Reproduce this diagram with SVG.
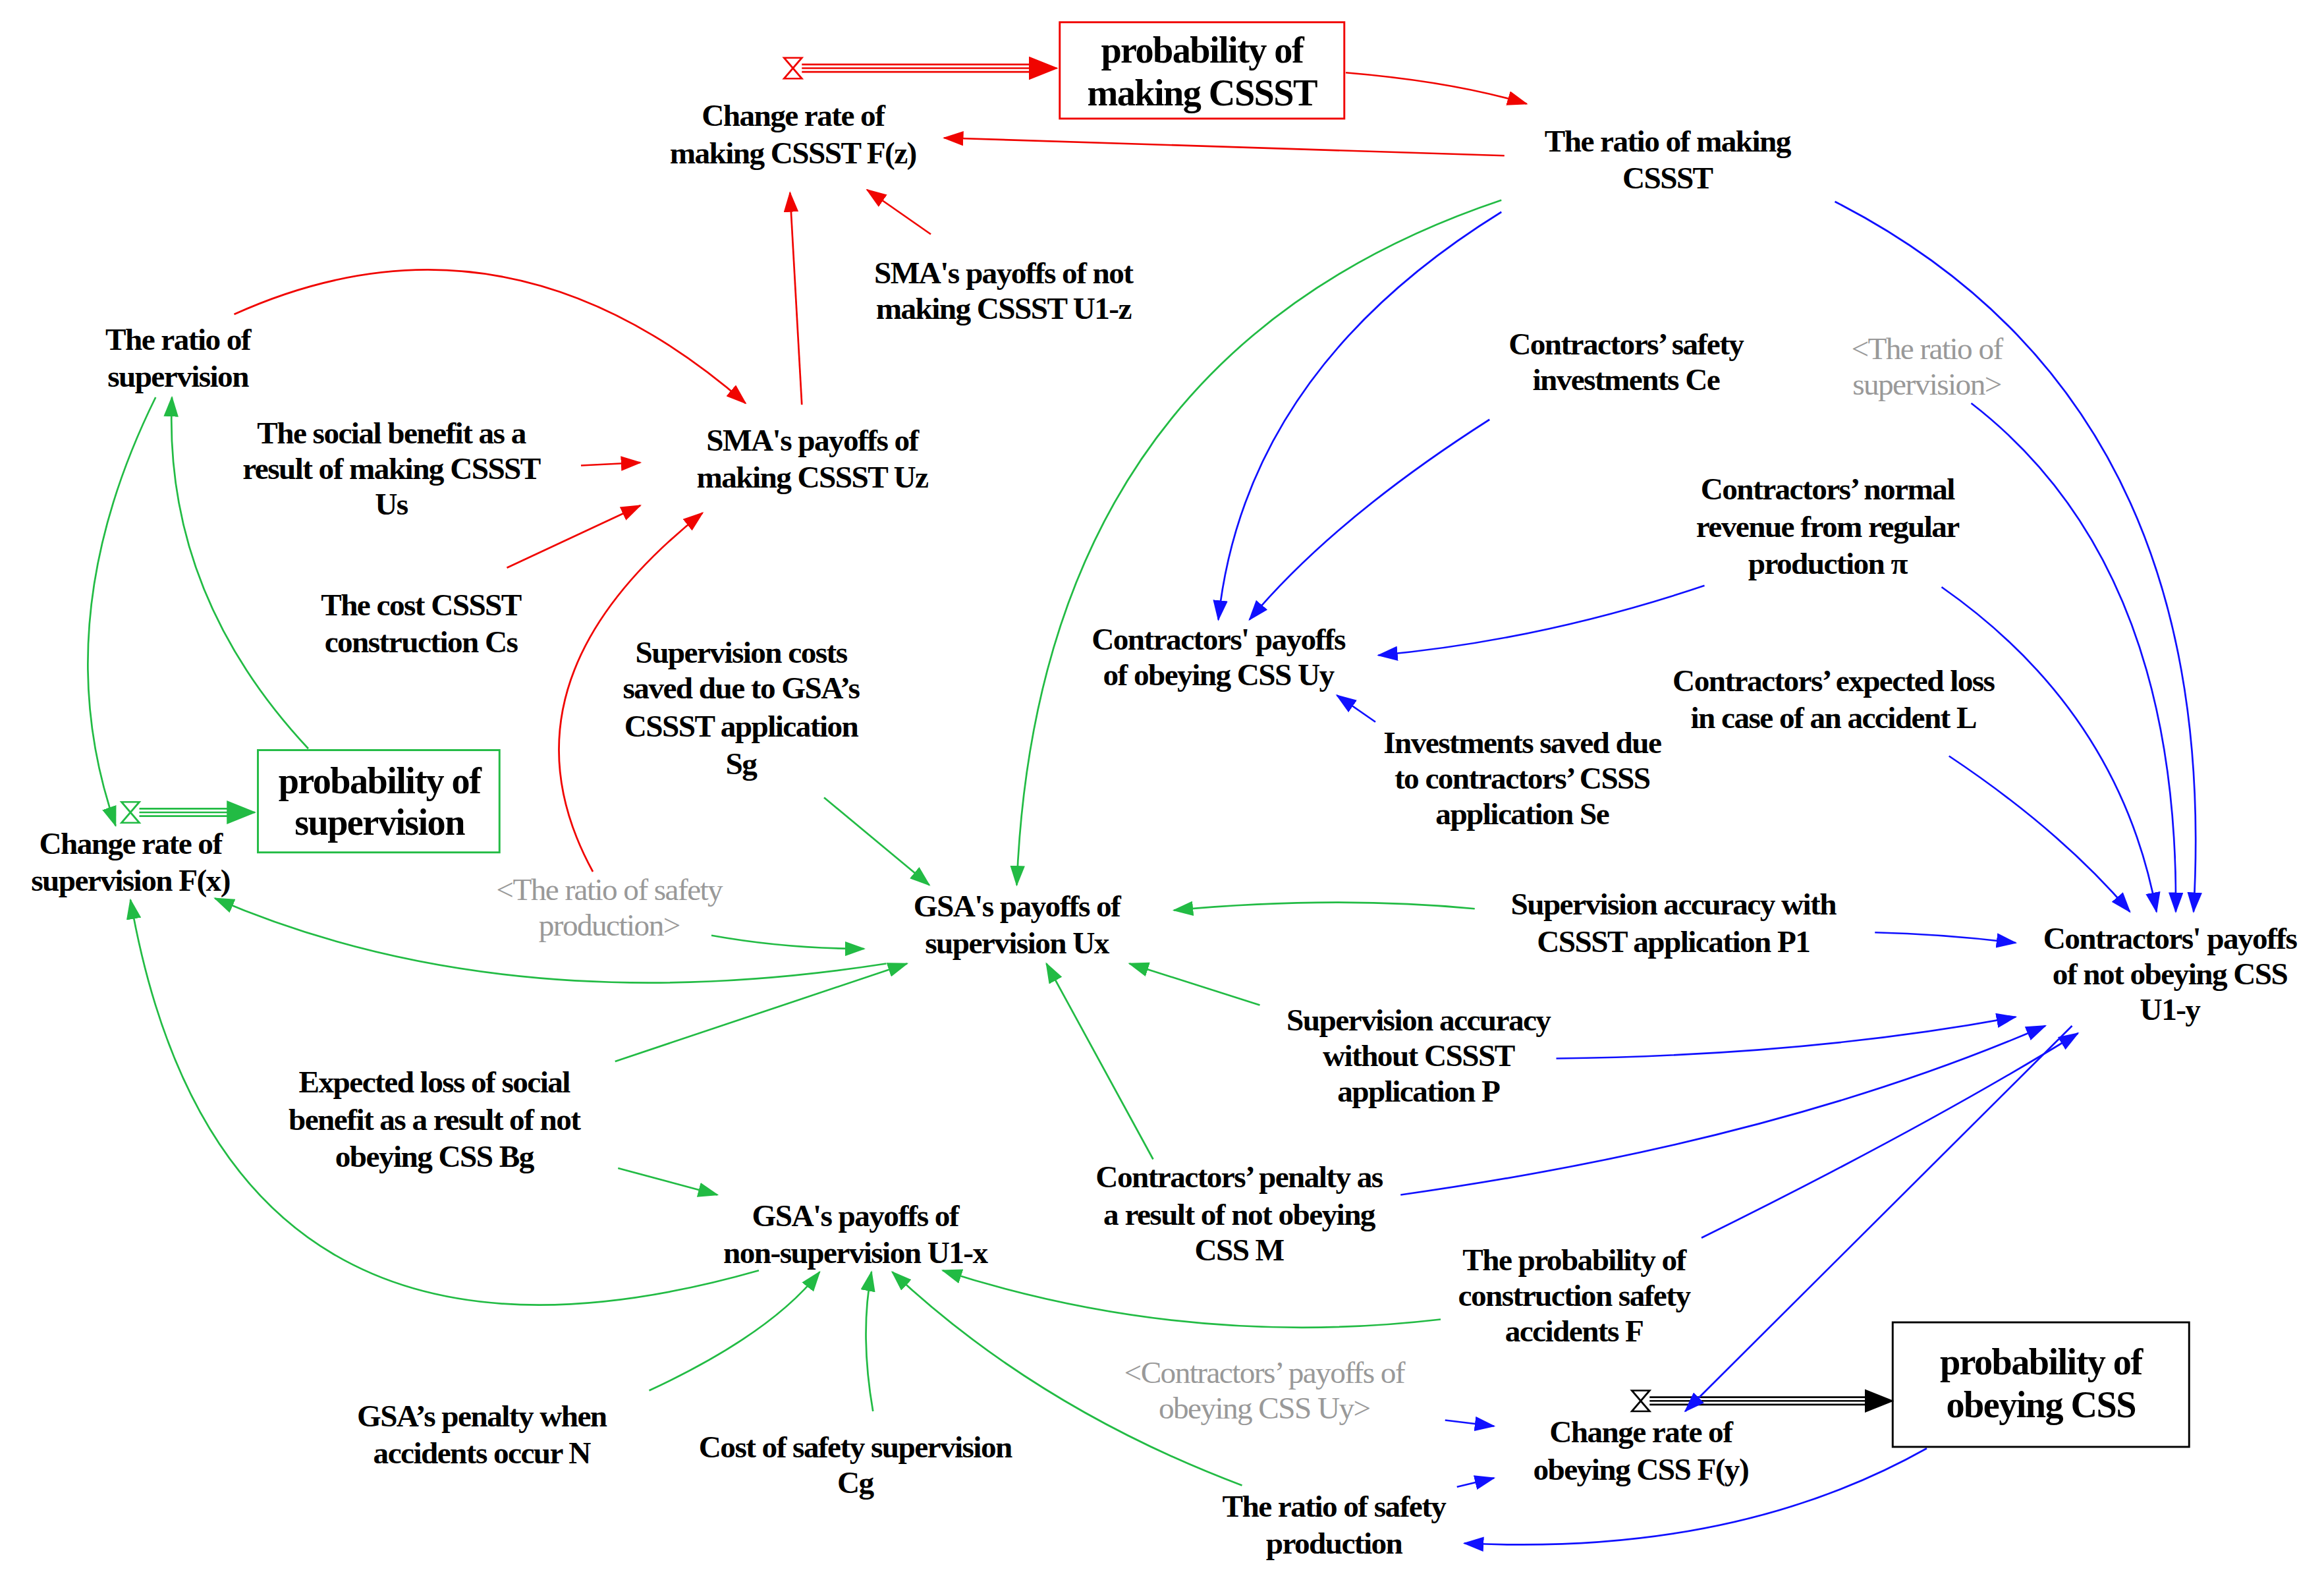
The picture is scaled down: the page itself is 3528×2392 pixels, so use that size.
<svg xmlns="http://www.w3.org/2000/svg" width="3528" height="2392" viewBox="0 0 3528 2392">
<style>
text{font-family:"Liberation Serif","Times New Roman",serif;font-weight:bold;font-size:21px;text-anchor:middle;fill:#000;letter-spacing:-0.7px}
.g{fill:#999;font-weight:normal}
.big{font-size:25px}
.r{stroke:#f00400;fill:none;stroke-width:1.2}
.gr{stroke:#22bb44;fill:none;stroke-width:1.2}
.b{stroke:#1010ff;fill:none;stroke-width:1.2}
.k{stroke:#000;fill:none;stroke-width:1.2}
</style>
<defs>
<marker id="mr" markerUnits="userSpaceOnUse" markerWidth="14" markerHeight="10" refX="13" refY="5" orient="auto"><path d="M0,0L14,5L0,10z" fill="#f00400"/></marker>
<marker id="mg" markerUnits="userSpaceOnUse" markerWidth="14" markerHeight="10" refX="13" refY="5" orient="auto"><path d="M0,0L14,5L0,10z" fill="#22bb44"/></marker>
<marker id="mb" markerUnits="userSpaceOnUse" markerWidth="14" markerHeight="10" refX="13" refY="5" orient="auto"><path d="M0,0L14,5L0,10z" fill="#1010ff"/></marker>
<marker id="mk" markerUnits="userSpaceOnUse" markerWidth="20" markerHeight="16" refX="19" refY="8" orient="auto"><path d="M0,0L20,8L0,16z" fill="#000"/></marker>
<marker id="mr2" markerUnits="userSpaceOnUse" markerWidth="20" markerHeight="16" refX="19" refY="8" orient="auto"><path d="M0,0L20,8L0,16z" fill="#f00400"/></marker>
<marker id="mg2" markerUnits="userSpaceOnUse" markerWidth="20" markerHeight="16" refX="19" refY="8" orient="auto"><path d="M0,0L20,8L0,16z" fill="#22bb44"/></marker>
</defs>
<rect width="3528" height="2392" fill="#fff"/>
<g transform="scale(2.25)">
<g id="connectors">
<path class="r" d="M541,43.5H705M541,48.5H705"/><path class="r" d="M541,46H713" stroke="none" marker-end="url(#mr2)"/>
<polygon points="529,39 541,39 529,53 541,53" fill="#fff" stroke="#f00400" stroke-width="1.2"/>
<path class="gr" d="M94,545.5H162M94,550.5H162"/><path class="gr" d="M94,548H172" stroke="none" marker-end="url(#mg2)"/>
<polygon points="82,541 94,541 82,555 94,555" fill="#fff" stroke="#22bb44" stroke-width="1.2"/>
<path class="k" d="M1113,942.5H1260M1113,947.5H1260"/><path class="k" d="M1113,945H1277" stroke="none" marker-end="url(#mk)"/>
<polygon points="1101,938 1113,938 1101,952 1113,952" fill="#fff" stroke="#000" stroke-width="1.2"/>
<path class="r" marker-end="url(#mr)" d="M908,49Q980,55 1030,70"/>
<path class="r" marker-end="url(#mr)" d="M1015,105L637,93"/>
<path class="r" marker-end="url(#mr)" d="M628,158L585,128"/>
<path class="r" marker-end="url(#mr)" d="M541,273L533,130"/>
<path class="r" marker-end="url(#mr)" d="M158,212Q340,130 503,272"/>
<path class="r" marker-end="url(#mr)" d="M392,314L432,312"/>
<path class="r" marker-end="url(#mr)" d="M342,383L432,341"/>
<path class="r" marker-end="url(#mr)" d="M400,588Q330,460 474,346"/>
<path class="gr" marker-end="url(#mg)" d="M1013,135Q700,240 686,597"/>
<path class="gr" marker-end="url(#mg)" d="M105,268Q30,420 78,557"/>
<path class="gr" marker-end="url(#mg)" d="M208,505Q110,400 116,268"/>
<path class="gr" marker-end="url(#mg)" d="M556,538L627,597"/>
<path class="gr" marker-end="url(#mg)" d="M480,631Q530,640 583,640"/>
<path class="gr" marker-end="url(#mg)" d="M598,650Q340,690 145,606"/>
<path class="gr" marker-end="url(#mg)" d="M415,716L612,650"/>
<path class="gr" marker-end="url(#mg)" d="M417,788L484,806"/>
<path class="gr" marker-end="url(#mg)" d="M995,613Q900,604 792,614"/>
<path class="gr" marker-end="url(#mg)" d="M850,678L762,650"/>
<path class="gr" marker-end="url(#mg)" d="M778,782L706,650"/>
<path class="gr" marker-end="url(#mg)" d="M512,857Q150,960 88,607"/>
<path class="gr" marker-end="url(#mg)" d="M972,890Q800,910 636,857"/>
<path class="gr" marker-end="url(#mg)" d="M438,938Q520,900 553,858"/>
<path class="gr" marker-end="url(#mg)" d="M589,952Q580,900 588,858"/>
<path class="gr" marker-end="url(#mg)" d="M838,1002Q700,950 602,858"/>
<path class="b" marker-end="url(#mb)" d="M1013,143Q840,250 822,418"/>
<path class="b" marker-end="url(#mb)" d="M1005,283Q900,350 843,418"/>
<path class="b" marker-end="url(#mb)" d="M1238,136Q1500,270 1480,615"/>
<path class="b" marker-end="url(#mb)" d="M1330,272Q1470,380 1468,615"/>
<path class="b" marker-end="url(#mb)" d="M1150,395Q1040,432 930,442"/>
<path class="b" marker-end="url(#mb)" d="M928,487L902,469"/>
<path class="b" marker-end="url(#mb)" d="M1310,396Q1430,480 1455,615"/>
<path class="b" marker-end="url(#mb)" d="M1315,510Q1390,560 1437,615"/>
<path class="b" marker-end="url(#mb)" d="M1265,629Q1310,630 1360,636"/>
<path class="b" marker-end="url(#mb)" d="M1050,714Q1220,712 1360,686"/>
<path class="b" marker-end="url(#mb)" d="M945,806Q1200,770 1380,692"/>
<path class="b" marker-end="url(#mb)" d="M1148,835Q1300,760 1402,697"/>
<path class="b" marker-end="url(#mb)" d="M1398,692L1137,952"/>
<path class="b" marker-end="url(#mb)" d="M975,958L1008,962"/>
<path class="b" marker-end="url(#mb)" d="M983,1003L1008,997"/>
<path class="b" marker-end="url(#mb)" d="M1300,977Q1170,1050 988,1041"/>
</g>
<g id="n1"><rect x="715" y="15" width="192" height="65" fill="none" stroke="#f00400" stroke-width="1.3"/><text class="big" x="811" y="42">probability of</text><text class="big" x="811" y="71">making CSSST</text></g>
<g id="n2"><text x="535" y="85">Change rate of</text><text x="535" y="110">making CSSST F(z)</text></g>
<g id="n3"><text x="1125" y="102">The ratio of making</text><text x="1125" y="127">CSSST</text></g>
<g id="n4"><text x="677" y="191">SMA's payoffs of not</text><text x="677" y="215">making CSSST U1-z</text></g>
<g id="n5"><text x="120" y="236">The ratio of</text><text x="120" y="261">supervision</text></g>
<g id="n6"><text x="264" y="299">The social benefit as a</text><text x="264" y="323">result of making CSSST</text><text x="264" y="347">Us</text></g>
<g id="n7"><text x="548" y="304">SMA's payoffs of</text><text x="548" y="329">making CSSST Uz</text></g>
<g id="n8"><text x="284" y="415">The cost CSSST</text><text x="284" y="440">construction Cs</text></g>
<g id="n9"><text x="500" y="447">Supervision costs</text><text x="500" y="471">saved due to GSA’s</text><text x="500" y="497">CSSST application</text><text x="500" y="522">Sg</text></g>
<g id="n10"><rect x="174" y="506" width="163" height="69" fill="none" stroke="#22bb44" stroke-width="1.3"/><text class="big" x="256" y="535">probability of</text><text class="big" x="256" y="563">supervision</text></g>
<g id="n11"><text x="88" y="576">Change rate of</text><text x="88" y="601">supervision F(x)</text></g>
<g id="n12"><text class="g" x="411" y="607">&lt;The ratio of safety</text><text class="g" x="411" y="631">production&gt;</text></g>
<g id="n13"><text x="686" y="618">GSA's payoffs of</text><text x="686" y="643">supervision Ux</text></g>
<g id="n14"><text x="1097" y="239">Contractors’ safety</text><text x="1097" y="263">investments Ce</text></g>
<g id="n15"><text class="g" x="1300" y="242">&lt;The ratio of</text><text class="g" x="1300" y="266">supervision&gt;</text></g>
<g id="n16"><text x="1233" y="337">Contractors’ normal</text><text x="1233" y="362">revenue from regular</text><text x="1233" y="387">production π</text></g>
<g id="n17"><text x="822" y="438">Contractors' payoffs</text><text x="822" y="462">of obeying CSS Uy</text></g>
<g id="n18"><text x="1237" y="466">Contractors’ expected loss</text><text x="1237" y="491">in case of an accident L</text></g>
<g id="n19"><text x="1027" y="508">Investments saved due</text><text x="1027" y="532">to contractors’ CSSS</text><text x="1027" y="556">application Se</text></g>
<g id="n20"><text x="1129" y="617">Supervision accuracy with</text><text x="1129" y="642">CSSST application P1</text></g>
<g id="n21"><text x="1464" y="640">Contractors' payoffs</text><text x="1464" y="664">of not obeying CSS</text><text x="1464" y="688">U1-y</text></g>
<g id="n22"><text x="957" y="695">Supervision accuracy</text><text x="957" y="719">without CSSST</text><text x="957" y="743">application P</text></g>
<g id="n23"><text x="293" y="737">Expected loss of social</text><text x="293" y="762">benefit as a result of not</text><text x="293" y="787">obeying CSS Bg</text></g>
<g id="n24"><text x="836" y="801">Contractors’ penalty as</text><text x="836" y="826">a result of not obeying</text><text x="836" y="850">CSS M</text></g>
<g id="n25"><text x="577" y="827">GSA's payoffs of</text><text x="577" y="852">non-supervision U1-x</text></g>
<g id="n26"><text x="1062" y="857">The probability of</text><text x="1062" y="881">construction safety</text><text x="1062" y="905">accidents F</text></g>
<g id="n27"><text class="g" x="853" y="933">&lt;Contractors’ payoffs of</text><text class="g" x="853" y="957">obeying CSS Uy&gt;</text></g>
<g id="n28"><rect x="1277" y="892" width="200" height="84" fill="none" stroke="#000" stroke-width="1.3"/><text class="big" x="1377" y="927">probability of</text><text class="big" x="1377" y="956">obeying CSS</text></g>
<g id="n29"><text x="1107" y="973">Change rate of</text><text x="1107" y="998">obeying CSS F(y)</text></g>
<g id="n30"><text x="325" y="962">GSA’s penalty when</text><text x="325" y="987">accidents occur N</text></g>
<g id="n31"><text x="577" y="983">Cost of safety supervision</text><text x="577" y="1007">Cg</text></g>
<g id="n32"><text x="900" y="1023">The ratio of safety</text><text x="900" y="1048">production</text></g>
</g>
</svg>
